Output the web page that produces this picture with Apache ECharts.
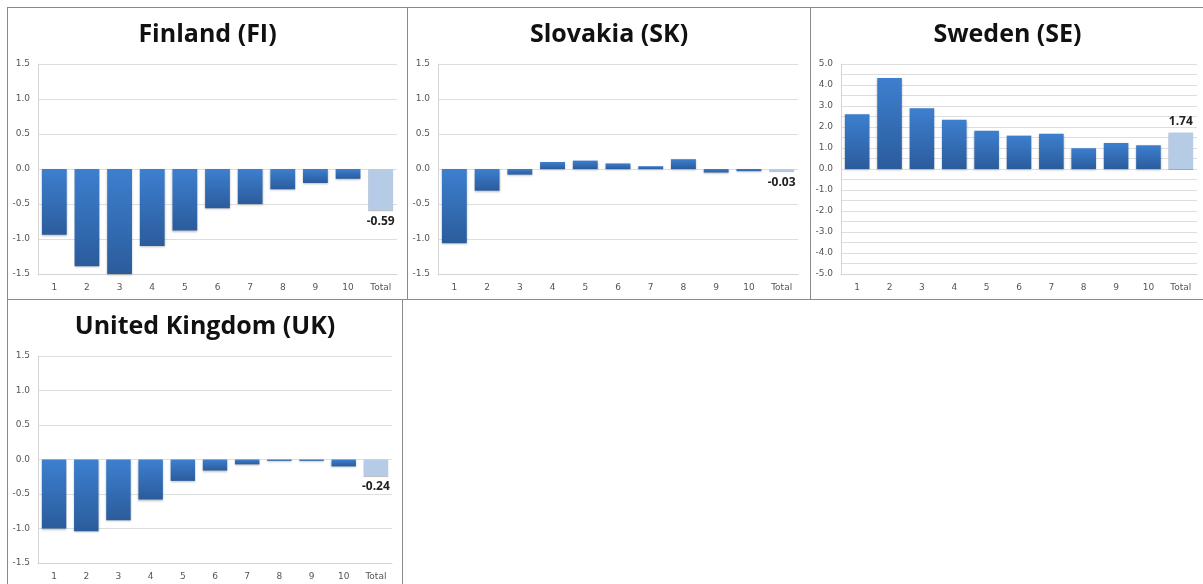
<!DOCTYPE html>
<html>
<head>
<meta charset="utf-8">
<script src="https://cdn.jsdelivr.net/npm/echarts@6/dist/echarts.min.js"></script>
<style>
  body { margin: 0; background: #fff; }
  .panel { position: absolute; border: 1px solid #8a8a8a; box-sizing: border-box; background: #fff; }
</style>
</head>
<body>
<div id="fi" class="panel" style="left:7px; top:7px; width:401px; height:293px;"></div>
<div id="sk" class="panel" style="left:407px; top:7px; width:404px; height:293px;"></div>
<div id="se" class="panel" style="left:810px; top:7px; width:395px; height:293px;"></div>
<div id="uk" class="panel" style="left:7px; top:299px; width:396px; height:290px;"></div>
<script>
// categories
const categories = ['1', '2', '3', '4', '5', '6', '7', '8', '9', '10', 'Total'];

// values per country (deciles 1-10, then total)
const finlandValues = [-0.94, -1.39, -1.52, -1.10, -0.88, -0.56, -0.50, -0.29, -0.20, -0.14, -0.59];
const slovakiaValues = [-1.06, -0.31, -0.08, 0.10, 0.12, 0.08, 0.04, 0.14, -0.05, -0.03, -0.03];
const swedenValues = [2.61, 4.33, 2.89, 2.35, 1.82, 1.59, 1.68, 0.99, 1.24, 1.13, 1.74];
const ukValues = [-1.00, -1.04, -0.88, -0.58, -0.31, -0.16, -0.07, -0.02, -0.02, -0.10, -0.24];

const barGradient = new echarts.graphic.LinearGradient(0, 0, 0, 1, [
  { offset: 0, color: '#3d7fcf' },
  { offset: 1, color: '#2b5c9c' }
]);
const barGradientNeg = new echarts.graphic.LinearGradient(0, 0, 0, 1, [
  { offset: 0, color: '#3d7fcf' },
  { offset: 1, color: '#2b5c9c' }
]);

function makeOption(title, values, yMin, yMax, step, labelStep, grid) {
  const data = values.map((v, i) => {
    const isTotal = i === values.length - 1;
    const item = { value: v };
    if (isTotal) {
      item.itemStyle = { color: '#b6cbe5', shadowBlur: 0 };
      item.label = {
        show: true,
        position: v < 0 ? 'bottom' : 'top',
        distance: 5,
        formatter: v.toFixed(2),
        fontFamily: 'Open Sans',
        fontWeight: 'bold',
        fontSize: 12,
        color: '#222'
      };
    }
    return item;
  });
  return {
    animation: false,
    title: {
      text: title,
      left: 'center',
      top: 9,
      textStyle: { fontFamily: 'Open Sans', fontWeight: 'bold', fontSize: 25, color: '#111' }
    },
    grid: grid,
    xAxis: {
      type: 'category',
      data: categories,
      position: 'bottom',
      axisLine: { onZero: false, lineStyle: { color: '#d4d4d4' } },
      axisTick: { show: false },
      axisLabel: { color: '#555', fontSize: 9, fontFamily: 'DejaVu Sans', margin: 9 }
    },
    yAxis: {
      type: 'value',
      min: yMin,
      max: yMax,
      interval: step,
      axisLine: { show: true, lineStyle: { color: '#d4d4d4' } },
      axisTick: { show: false },
      splitLine: { lineStyle: { color: '#dedede' } },
      axisLabel: {
        color: '#555',
        fontSize: 9,
        fontFamily: 'DejaVu Sans',
        margin: 8,
        formatter: v => {
          const r = Math.round(v / labelStep);
          return Math.abs(v - r * labelStep) < 1e-6 ? v.toFixed(1) : '';
        }
      }
    },
    series: [{
      type: 'bar',
      data: data,
      barCategoryGap: '24%',
      itemStyle: {
        color: barGradient,
        shadowColor: 'rgba(0,0,0,0.25)',
        shadowBlur: 2,
        shadowOffsetY: 1
      }
    }]
  };
}

const charts = [
  ['fi', 'Finland (FI)', finlandValues, -1.5, 1.5, 0.5, 0.5, { left: 30, right: 10, top: 56, bottom: 25 }],
  ['sk', 'Slovakia (SK)', slovakiaValues, -1.5, 1.5, 0.5, 0.5, { left: 30, right: 12, top: 56, bottom: 25 }],
  ['se', 'Sweden (SE)', swedenValues, -5, 5, 0.5, 1, { left: 30, right: 7, top: 56, bottom: 25 }],
  ['uk', 'United Kingdom (UK)', ukValues, -1.5, 1.5, 0.5, 0.5, { left: 30, right: 10, top: 56, bottom: 25 }]
];

charts.forEach(c => {
  const chart = echarts.init(document.getElementById(c[0]));
  chart.setOption(makeOption(c[1], c[2], c[3], c[4], c[5], c[6], c[7]));
});
</script>
</body>
</html>
